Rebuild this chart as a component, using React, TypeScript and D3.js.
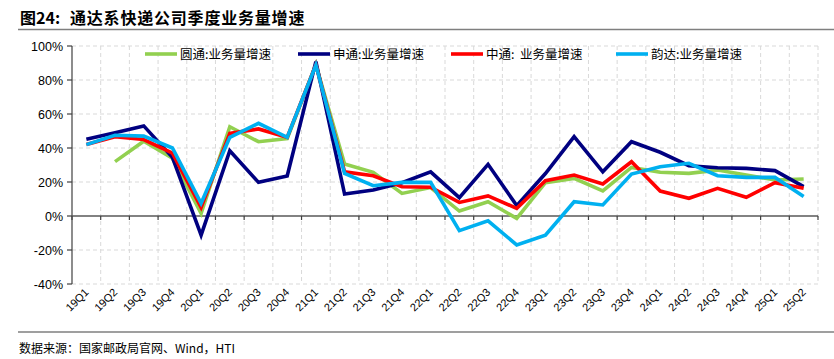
import React from 'react';
import * as d3 from 'd3';

const categories = ['19Q1','19Q2','19Q3','19Q4','20Q1','20Q2','20Q3','20Q4','21Q1','21Q2','21Q3','21Q4','22Q1','22Q2','22Q3','22Q4','23Q1','23Q2','23Q3','23Q4','24Q1','24Q2','24Q3','24Q4','25Q1','25Q2'];
const ytoValues: (number | null)[] = [null, 32, 44, 34, 1.6, 52.5, 43.7, 45.5, 89, 30.6, 25.7, 13.3, 16.7, 2.9, 8.4, -1.4, 19.6, 22.1, 14.7, 28.6, 25.7, 25.1, 27, 24.1, 21.2, 21.8];
const stoValues: (number | null)[] = [45.1, 49, 53, 34.5, -11.2, 38.4, 19.8, 23.5, 90.8, 12.9, 15.3, 19.6, 26, 10.8, 30.4, 6.1, 25, 46.7, 26, 43.7, 37.5, 29.6, 28.4, 28, 26.7, 17.3];
const ztoValues: (number | null)[] = [42, 46.6, 45, 37, 5, 48.6, 51.2, 46.3, 89, 26, 23.7, 17.2, 16.9, 8, 11.8, 4.5, 20.8, 24.1, 18.8, 31.9, 14.7, 10.4, 16.3, 11, 19.6, 16.3];
const ydValues: (number | null)[] = [42, 47.5, 47, 40, 7.5, 46.3, 54.5, 46.3, 88.8, 25, 17.8, 19.8, 19.8, -8.6, -2.8, -17, -11.3, 8.4, 6.5, 24.7, 29, 31, 23.7, 22.7, 22.7, 11.4];
const seriesNames = ['圆通:业务量增速', '申通:业务量增速', '中通:  业务量增速', '韵达:业务量增速'];
const seriesColors = ['#92D050', '#000080', '#FF0000', '#00B0F0'];
const yTicks = [-40, -20, 0, 20, 40, 60, 80, 100];
const titleLabel = '图24:';
const titleText = '通达系快递公司季度业务量增速';
const source = '数据来源：国家邮政局官网、Wind，HTI';

export default function App() {
  const W = 834, H = 359;
  const left = 72, right = 818, top = 46, bottom = 284;
  const x = d3.scaleBand<string>().domain(categories).range([left, right]).padding(0);
  const y = d3.scaleLinear().domain([-40, 100]).range([bottom, top]);
  const bw = x.bandwidth();
  const cx = (c: string) => (x(c) as number) + bw / 2;
  const allSeries = [ytoValues, stoValues, ztoValues, ydValues];
  const line = d3.line<{ c: string; v: number | null }>()
    .defined(d => d.v !== null)
    .x(d => cx(d.c))
    .y(d => y(d.v as number));
  const boundaries = d3.range(categories.length + 1).map(i => left + i * bw);
  const legendX = [145, 298, 451, 616];
  const cjk = '"Noto Sans CJK SC", sans-serif';
  const latin = '"Liberation Sans", Arial, sans-serif';

  return (
    <svg width={W} height={H} style={{ position: 'absolute', left: 0, top: 0, display: 'block', background: '#fff' }}>
      <text x={20} y={24} fontFamily={cjk} fontWeight="bold" fontSize={16} fill="#000">{titleLabel}</text>
      <text x={70} y={24} fontFamily={cjk} fontWeight="bold" fontSize={16} letterSpacing={0.8} fill="#000">{titleText}</text>
      <line x1={18} x2={834} y1={29.5} y2={29.5} stroke="#7f7f7f" strokeWidth={1.5} />

      {/* grid */}
      {yTicks.filter(t => t !== 0).map(t => (
        <line key={'h' + t} x1={left} x2={right} y1={y(t)} y2={y(t)} stroke="#d9d9d9" strokeWidth={1} strokeDasharray="4,3" />
      ))}
      {boundaries.slice(1).map((b, i) => (
        <line key={'v' + i} x1={b} x2={b} y1={top} y2={bottom} stroke="#d9d9d9" strokeWidth={1} strokeDasharray="4,3" />
      ))}

      {/* y axis */}
      <line x1={left} x2={left} y1={top} y2={bottom} stroke="#404040" strokeWidth={1.2} />
      {yTicks.map(t => (
        <g key={'yt' + t}>
          <line x1={left - 5} x2={left} y1={y(t)} y2={y(t)} stroke="#404040" strokeWidth={1.2} />
          <text x={left - 9} y={y(t) + 4.5} textAnchor="end" fontFamily={latin} fontSize={12.5} fill="#000">{t}%</text>
        </g>
      ))}
      {/* zero axis */}
      <line x1={left} x2={right} y1={y(0)} y2={y(0)} stroke="#595959" strokeWidth={1.5} />
      {boundaries.map((b, i) => (
        <line key={'xt' + i} x1={b} x2={b} y1={y(0)} y2={y(0) + 4} stroke="#404040" strokeWidth={1.2} />
      ))}
      {categories.map(c => (
        <text key={'xl' + c} transform={`translate(${cx(c) + 3},${293}) rotate(-45)`} textAnchor="end" fontFamily={latin} fontSize={11} fill="#000">{c}</text>
      ))}

      {/* lines */}
      {allSeries.map((s, i) => (
        <path key={'s' + i} d={line(categories.map((c, j) => ({ c, v: s[j] }))) || ''} fill="none" stroke={seriesColors[i]} strokeWidth={3.6} strokeLinejoin="miter" />
      ))}

      {/* legend */}
      {seriesNames.map((n, i) => (
        <g key={'lg' + i}>
          <line x1={legendX[i]} x2={legendX[i] + 32} y1={54} y2={54} stroke={seriesColors[i]} strokeWidth={3.6} />
          <text x={legendX[i] + 35} y={58.5} fontFamily={cjk} fontSize={12.5} fill="#000" style={{ whiteSpace: 'pre' }}>{n}</text>
        </g>
      ))}

      <line x1={18} x2={834} y1={332} y2={332} stroke="#7f7f7f" strokeWidth={1.5} />
      <text x={19} y={353} fontFamily={cjk} fontSize={12} fill="#000">{source}</text>
    </svg>
  );
}
